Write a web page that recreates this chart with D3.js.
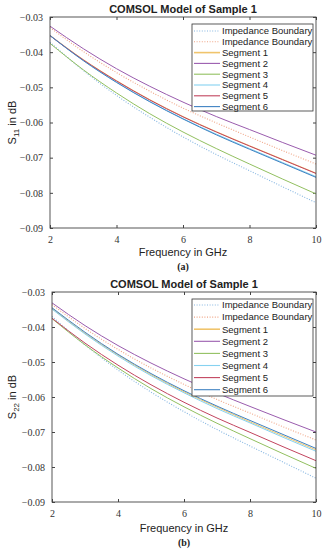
<!DOCTYPE html>
<html>
<head>
<meta charset="utf-8">
<script src="https://cdn.jsdelivr.net/npm/d3@7"></script>
<style>
  body { margin: 0; background: #fff; }
</style>
</head>
<body>
<div id="chart"></div>
<script>
// Data
const freq = [2, 3, 4, 5, 6, 7, 8, 9, 10];
const xTicks = [2, 4, 6, 8, 10];
const yTicks = [-0.03, -0.04, -0.05, -0.06, -0.07, -0.08, -0.09];
const seriesNames = ["Impedance Boundary", "Impedance Boundary", "Segment 1", "Segment 2",
  "Segment 3", "Segment 4", "Segment 5", "Segment 6"];
const seriesColors = ["#86b6e2", "#f0a585", "#f0c46c", "#9a5cae", "#92c060", "#86d2f0", "#c2445e", "#3f82c2"];
const seriesDotted = [true, true, false, false, false, false, false, false];

// (a) S11
const s11Ib1 = [-0.0372, -0.0452, -0.0523, -0.0585, -0.0641, -0.0691, -0.0737, -0.0783, -0.0828];
const s11Ib2 = [-0.0330, -0.0398, -0.0458, -0.0511, -0.0559, -0.0601, -0.0641, -0.0680, -0.0718];
const s11Seg1 = [-0.0352, -0.0421, -0.0481, -0.0535, -0.0583, -0.0626, -0.0666, -0.0705, -0.0744];
const s11Seg2 = [-0.0326, -0.0390, -0.0447, -0.0497, -0.0542, -0.0583, -0.0620, -0.0657, -0.0693];
const s11Seg3 = [-0.0375, -0.0450, -0.0516, -0.0575, -0.0627, -0.0674, -0.0718, -0.0761, -0.0803];
const s11Seg4 = [-0.0352, -0.0423, -0.0485, -0.0540, -0.0589, -0.0633, -0.0674, -0.0714, -0.0754];
const s11Seg5 = [-0.0353, -0.0422, -0.0482, -0.0536, -0.0584, -0.0627, -0.0667, -0.0706, -0.0745];
const s11Seg6 = [-0.0353, -0.0424, -0.0486, -0.0541, -0.0590, -0.0635, -0.0676, -0.0716, -0.0756];

// (b) S22
const s22Ib1 = [-0.0370, -0.0451, -0.0523, -0.0586, -0.0642, -0.0693, -0.0740, -0.0786, -0.0832];
const s22Ib2 = [-0.0336, -0.0404, -0.0464, -0.0517, -0.0564, -0.0607, -0.0646, -0.0685, -0.0723];
const s22Seg1 = [-0.0347, -0.0418, -0.0480, -0.0536, -0.0585, -0.0629, -0.0671, -0.0711, -0.0751];
const s22Seg2 = [-0.0331, -0.0396, -0.0453, -0.0503, -0.0548, -0.0589, -0.0627, -0.0664, -0.0700];
const s22Seg3 = [-0.0376, -0.0451, -0.0517, -0.0576, -0.0628, -0.0675, -0.0719, -0.0762, -0.0804];
const s22Seg4 = [-0.0349, -0.0420, -0.0483, -0.0539, -0.0588, -0.0633, -0.0674, -0.0715, -0.0755];
const s22Seg5 = [-0.0375, -0.0446, -0.0509, -0.0565, -0.0615, -0.0660, -0.0701, -0.0742, -0.0782];
const s22Seg6 = [-0.0345, -0.0415, -0.0478, -0.0533, -0.0582, -0.0626, -0.0667, -0.0707, -0.0747];

const width = 324;
const height = 550;

const svg = d3.select("#chart")
  .append("svg")
  .attr("width", width)
  .attr("height", height);

const panels = [
  {
    series: [s11Ib1, s11Ib2, s11Seg1, s11Seg2, s11Seg3, s11Seg4, s11Seg5, s11Seg6],
    sub: "11", tag: "(a)",
    left: 50, right: 316, top: 17, bottom: 228,
    titleY: 13, xlabelY: 256, tagY: 270,
    legend: { x: 192, y: 24, w: 121, h: 87, step: 10.8, first: 7 }
  },
  {
    series: [s22Ib1, s22Ib2, s22Seg1, s22Seg2, s22Seg3, s22Seg4, s22Seg5, s22Seg6],
    sub: "22", tag: "(b)",
    left: 52, right: 316, top: 292, bottom: 502,
    titleY: 288, xlabelY: 532, tagY: 546,
    legend: { x: 192, y: 299, w: 121, h: 97, step: 12.1, first: 6 }
  }
];

panels.forEach(drawPanel);

function drawPanel(p) {
  const g = svg.append("g");
  const x = d3.scaleLinear().domain([2, 10]).range([p.left, p.right]);
  const y = d3.scaleLinear().domain([-0.09, -0.03]).range([p.bottom, p.top]);
  const axisColor = "#444";

  // Title
  g.append("text")
    .attr("x", (p.left + p.right) / 2)
    .attr("y", p.titleY)
    .attr("text-anchor", "middle")
    .attr("font-family", "Liberation Sans, Arial, sans-serif")
    .attr("font-weight", "bold")
    .attr("font-size", 11)
    .attr("fill", "#222")
    .text("COMSOL Model of Sample 1");

  // Axes (ticks inside, MATLAB style)
  const fmt = d3.format(".2f");
  const axStyle = (sel) => {
    sel.select(".domain").remove();
    sel.selectAll("line").attr("stroke", axisColor);
    sel.selectAll("text")
      .attr("font-family", "Liberation Serif, Times New Roman, serif")
      .attr("font-size", 10)
      .attr("fill", "#333");
  };
  g.append("g")
    .attr("transform", `translate(0,${p.bottom})`)
    .call(d3.axisBottom(x).tickValues(xTicks).tickSizeInner(-3).tickPadding(8))
    .call(axStyle);
  g.append("g")
    .attr("transform", `translate(0,${p.top})`)
    .call(d3.axisTop(x).tickValues(xTicks).tickSizeInner(-3).tickFormat(""))
    .call(axStyle);
  g.append("g")
    .attr("transform", `translate(${p.left},0)`)
    .call(d3.axisLeft(y).tickValues(yTicks).tickSizeInner(-3).tickPadding(7).tickFormat(fmt))
    .call(axStyle);
  g.append("g")
    .attr("transform", `translate(${p.right},0)`)
    .call(d3.axisRight(y).tickValues(yTicks).tickSizeInner(-3).tickFormat(""))
    .call(axStyle);

  // Lines
  const line = d3.line()
    .x((d, i) => x(freq[i]))
    .y((d) => y(d))
    .curve(d3.curveMonotoneX);

  g.append("g")
    .selectAll("path")
    .data(p.series)
    .join("path")
    .attr("d", line)
    .attr("fill", "none")
    .attr("stroke", (d, i) => seriesColors[i])
    .attr("stroke-width", (d, i) => (seriesDotted[i] ? 1.1 : 1))
    .attr("stroke-dasharray", (d, i) => (seriesDotted[i] ? "1,1.6" : null));

  // Box
  g.append("rect")
    .attr("x", p.left)
    .attr("y", p.top)
    .attr("width", p.right - p.left)
    .attr("height", p.bottom - p.top)
    .attr("fill", "none")
    .attr("stroke", axisColor)
    .attr("stroke-width", 0.9);

  // Legend
  const L = p.legend;
  const lg = g.append("g").attr("transform", `translate(${L.x},${L.y})`);
  lg.append("rect")
    .attr("width", L.w)
    .attr("height", L.h)
    .attr("fill", "#fff")
    .attr("stroke", "#333")
    .attr("stroke-width", 0.8);
  const items = lg.selectAll("g.item")
    .data(seriesNames)
    .join("g")
    .attr("class", "item")
    .attr("transform", (d, i) => `translate(0,${L.first + i * L.step})`);
  items.append("line")
    .attr("x1", 2)
    .attr("x2", 28)
    .attr("stroke", (d, i) => seriesColors[i])
    .attr("stroke-width", (d, i) => (i === 2 ? 1.6 : 1.1))
    .attr("stroke-dasharray", (d, i) => (seriesDotted[i] ? "1,1.6" : null));
  items.append("text")
    .attr("x", 30)
    .attr("dy", "0.35em")
    .attr("font-family", "Liberation Sans, Arial, sans-serif")
    .attr("font-size", 9.5)
    .attr("fill", "#222")
    .text((d) => d);

  // X label
  g.append("text")
    .attr("x", (p.left + p.right) / 2)
    .attr("y", p.xlabelY)
    .attr("text-anchor", "middle")
    .attr("font-family", "Liberation Sans, Arial, sans-serif")
    .attr("font-size", 11)
    .attr("fill", "#222")
    .text("Frequency in GHz");

  // Y label
  const yl = g.append("text")
    .attr("transform", `translate(16,${(p.top + p.bottom) / 2}) rotate(-90)`)
    .attr("text-anchor", "middle")
    .attr("font-family", "Liberation Sans, Arial, sans-serif")
    .attr("font-size", 11)
    .attr("fill", "#222");
  yl.append("tspan").text("S");
  yl.append("tspan").attr("dy", 3).attr("font-size", 8).text(p.sub);
  yl.append("tspan").attr("dy", -3).text(" in dB");

  // Panel tag
  g.append("text")
    .attr("x", (p.left + p.right) / 2)
    .attr("y", p.tagY)
    .attr("text-anchor", "middle")
    .attr("font-family", "Liberation Serif, Times New Roman, serif")
    .attr("font-weight", "bold")
    .attr("font-size", 10)
    .attr("fill", "#222")
    .text(p.tag);
}
</script>
</body>
</html>
